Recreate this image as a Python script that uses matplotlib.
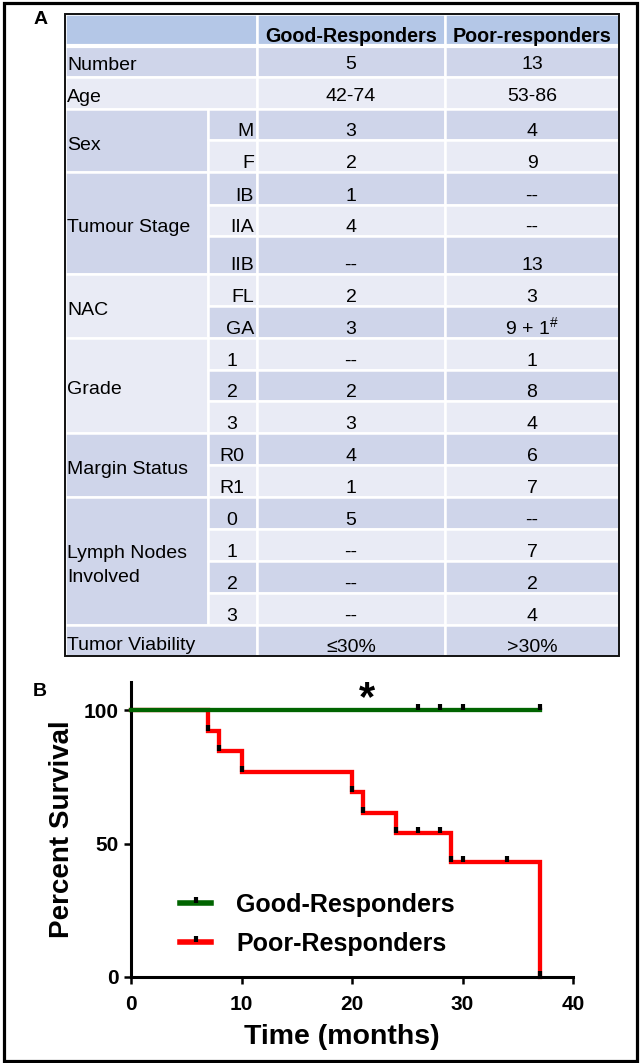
import matplotlib
matplotlib.use("Agg")
import matplotlib.pyplot as plt
from matplotlib.patches import Rectangle
from matplotlib.lines import Line2D
from matplotlib.path import Path

plt.rcParams['font.family'] = ['Liberation Sans', 'DejaVu Sans']
plt.rcParams['mathtext.fontset'] = 'custom'
plt.rcParams['mathtext.rm'] = 'Liberation Sans'
plt.rcParams['mathtext.default'] = 'regular'

# ---------------- data: panel A table ----------------
headers = ["Good-Responders", "Poor-responders"]
categories = ["Number", "Age", "Sex", "Tumour Stage", "NAC", "Grade",
              "Margin Status", "Lymph Nodes\nInvolved", "Tumor Viability"]
subcategories = [[], [], ["M", "F"], ["IB", "IIA", "IIB"], ["FL", "GA"],
                 ["1", "2", "3"], ["R0", "R1"], ["0", "1", "2", "3"], []]
good_values = [["5"], ["42-74"], ["3", "2"], ["1", "4", "--"], ["2", "3"],
               ["--", "2", "3"], ["4", "1"], ["5", "--", "--", "--"], ["≤30%"]]
poor_values = [["13"], ["53-86"], ["4", "9"], ["--", "--", "13"],
               ["3", r"9 + 1$^{\#}$"], ["1", "8", "4"], ["6", "7"],
               ["--", "7", "2", "4"], [">30%"]]

# ---------------- data: panel B Kaplan-Meier ----------------
good_label = "Good-Responders"
poor_label = "Poor-Responders"
good_times = [0, 37]
good_surv = [100, 100]
good_mark_times = [26, 28, 30, 37]
good_mark_surv = [100, 100, 100, 100]
poor_times = [0, 7, 8, 10, 20, 21, 24, 29, 37]
poor_surv = [100, 92.3, 84.6, 76.9, 69.2, 61.5, 53.8, 43.1, 0]
poor_mark_times = [7, 8, 10, 20, 21, 24, 26, 28, 29, 30, 34, 37]
poor_mark_surv = [92.3, 84.6, 76.9, 69.2, 61.5, 53.8, 53.8, 53.8, 43.1, 43.1, 43.1, 0]
x_ticks = [0, 10, 20, 30, 40]
y_ticks = [0, 50, 100]
sig_label = "*"
sig_pos = (21.4, 104)

# ---------------- layout ----------------
W, H = 641, 1063
fig = plt.figure(figsize=(W / 100, H / 100), dpi=100)
bg = fig.add_axes([0, 0, 1, 1])
bg.set_xlim(0, W)
bg.set_ylim(H, 0)
bg.axis('off')

HEAD_C = '#b4c7e7'
DARK_C = '#cfd5ea'
LIGHT_C = '#e9ebf5'
col_x = [65, 208, 257, 445, 619]
row_y = [45, 77, 109, 140, 172, 205, 236, 274, 306, 338, 370, 401, 433,
         465, 497, 529, 561, 593, 625, 656]
top_y = 14
fs = 14
edge_lw = 1.8


def cell(x0, x1, y0, y1, color):
    bg.add_patch(Rectangle((x0, y0), x1 - x0, y1 - y0, facecolor=color,
                           edgecolor='white', linewidth=edge_lw, zorder=1))


# header
cell(col_x[0], col_x[2], top_y, row_y[0], HEAD_C)
cell(col_x[2], col_x[3], top_y, row_y[0], HEAD_C)
cell(col_x[3], col_x[4], top_y, row_y[0], HEAD_C)
for j, h in enumerate(headers):
    bg.text((col_x[2 + j] + col_x[3 + j]) / 2, row_y[0] - 3, h, ha='center',
            va='baseline', fontsize=14.2, fontweight='bold', zorder=3)

r = 0
for gi, cat in enumerate(categories):
    subs = subcategories[gi]
    n = max(1, len(subs))
    y0, y1 = row_y[r], row_y[r + n]
    gcol = DARK_C if r % 2 == 0 else LIGHT_C
    x_end = col_x[1] if subs else col_x[2]
    cell(col_x[0], x_end, y0, y1, gcol)
    lines = cat.split("\n")
    yc = (y0 + y1) / 2
    for li, line in enumerate(lines):
        yb = yc + 9 + (li - (len(lines) - 1) / 2) * 24
        bg.text(col_x[0] + 2, yb, line, ha='left', va='baseline', fontsize=fs, zorder=3)
    for k in range(n):
        ry0, ry1 = row_y[r + k], row_y[r + k + 1]
        rcol = DARK_C if (r + k) % 2 == 0 else LIGHT_C
        if subs:
            cell(col_x[1], col_x[2], ry0, ry1, rcol)
        cell(col_x[2], col_x[3], ry0, ry1, rcol)
        cell(col_x[3], col_x[4], ry0, ry1, rcol)
        if subs or gi == len(categories) - 1:
            yb = ry1 - 4
        else:
            yb = (ry0 + ry1) / 2 + 8
        if subs:
            s = subs[k]
            if s[-1].isdigit():
                bg.text(232, yb, s, ha='center', va='baseline', fontsize=fs, zorder=3)
            else:
                bg.text(col_x[2] - 3, yb, s, ha='right', va='baseline', fontsize=fs, zorder=3)
        bg.text((col_x[2] + col_x[3]) / 2, yb, good_values[gi][k], ha='center',
                va='baseline', fontsize=fs, zorder=3)
        bg.text((col_x[3] + col_x[4]) / 2, yb, poor_values[gi][k], ha='center',
                va='baseline', fontsize=fs, zorder=3)
    r += n

# thicker white separator below header
bg.plot([col_x[0], col_x[4]], [row_y[0] + 1, row_y[0] + 1], color='white', lw=3, zorder=2)
# table outline
bg.add_patch(Rectangle((col_x[0], top_y), col_x[4] - col_x[0], row_y[-1] - top_y,
                       facecolor='none', edgecolor='#111111', linewidth=1.4, zorder=4))
# figure outline
bg.add_patch(Rectangle((3.5, 2.5), 633, 1058, facecolor='none', edgecolor='black',
                       linewidth=2.3, zorder=5))

# panel labels
bg.text(41, 24, "A", ha='center', va='baseline', fontsize=14, fontweight='bold')
bg.text(40, 696, "B", ha='center', va='baseline', fontsize=14, fontweight='bold')

# ---------------- panel B ----------------
ax = fig.add_axes([131 / W, 1 - 977 / H, 442 / W, 295 / H])
ax.set_xlim(0, 40)
ax.set_ylim(0, 110.5)
for s in ['top', 'right']:
    ax.spines[s].set_visible(False)
for s in ['left', 'bottom']:
    ax.spines[s].set_linewidth(2.2)

GREEN = '#006400'
RED = '#ff0000'
tick_marker = Path([(0, 0), (0, 1)], [Path.MOVETO, Path.LINETO])
mk = dict(marker=tick_marker, markersize=9, markeredgewidth=3,
          markeredgecolor='black', linestyle='none', clip_on=False, zorder=5)

ax.plot(poor_times, poor_surv, drawstyle='steps-post', color=RED, lw=3.1, zorder=2,
        solid_joinstyle='miter', clip_on=False)
ax.plot(good_times, good_surv, drawstyle='steps-post', color=GREEN, lw=3.1, zorder=3,
        clip_on=False)
ax.plot(poor_mark_times, poor_mark_surv, **mk)
ax.plot(good_mark_times, good_mark_surv, **mk)

ax.text(sig_pos[0], sig_pos[1], sig_label, ha='center', va='center', fontsize=30,
        fontweight='bold')

ax.set_xticks(x_ticks, labels=[str(v) for v in x_ticks], fontsize=15, fontweight='bold')
ax.set_yticks(y_ticks, labels=[str(v) for v in y_ticks], fontsize=15, fontweight='bold')
ax.tick_params(axis='both', direction='out', length=5, width=1.8)
ax.tick_params(axis='x', pad=8)
ax.tick_params(axis='y', pad=4)
ax.set_xlabel("Time (months)", fontsize=20.5, fontweight='bold')
ax.xaxis.set_label_coords(0.477, -0.16)
ax.set_ylabel("Percent Survival", fontsize=20, fontweight='bold', labelpad=6)

handles = [Line2D([], [], color=GREEN, lw=4, marker=tick_marker, markersize=9,
                  markeredgewidth=3, markeredgecolor='black'),
           Line2D([], [], color=RED, lw=4, marker=tick_marker, markersize=9,
                  markeredgewidth=3, markeredgecolor='black')]
ax.legend(handles, [good_label, poor_label], loc='upper left',
          bbox_to_anchor=(0.111, 0.285), frameon=False, borderpad=0, borderaxespad=0,
          handlelength=1.25, handletextpad=1.0, labelspacing=0.6,
          prop={'size': 18, 'weight': 'bold'}, numpoints=1)

fig.savefig("out.png", dpi=100)
